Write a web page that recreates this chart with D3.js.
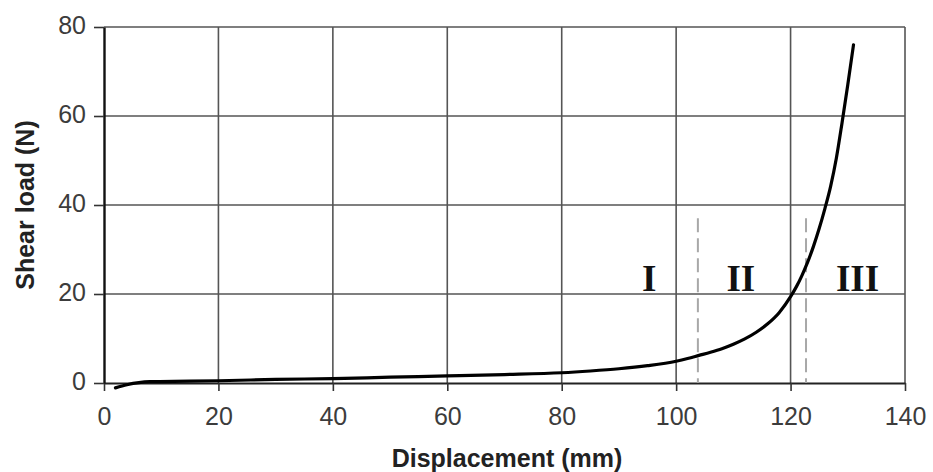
<!DOCTYPE html>
<html>
<head>
<meta charset="utf-8">
<script src="https://cdn.jsdelivr.net/npm/d3@7"></script>
<style>
  html, body { margin: 0; padding: 0; background: #fff; }
  svg { display: block; }
</style>
</head>
<body>
<svg id="chart" width="933" height="472"></svg>
<script>
// Shear load vs. displacement test record
const displacement = [2, 4, 8, 15, 20, 30, 40, 50, 60, 70, 80, 85, 90, 95, 100, 102, 104, 106, 108, 110, 112, 114, 116, 118, 120, 121, 122, 123, 124, 125, 126, 127, 128, 129, 130, 131];
const shearLoad    = [-1.1, -0.4, 0.3, 0.4, 0.5, 0.8, 1.0, 1.3, 1.6, 1.9, 2.3, 2.7, 3.2, 3.9, 4.9, 5.5, 6.2, 6.9, 7.7, 8.7, 9.9, 11.4, 13.3, 15.8, 19.4, 21.6, 24.2, 27.2, 30.7, 34.7, 39.2, 44.2, 50.5, 58.5, 67, 76];

const xTicks = [0, 20, 40, 60, 80, 100, 120, 140];
const yTicks = [0, 20, 40, 60, 80];

// Stage boundaries (dashed) and stage labels
const stageBounds = [103.8, 122.7];
const stageBoundTop = 37;
const stageNames = ["I", "II", "III"];
const stageLabelX = [95.3, 111.3, 131.7];
const stageLabelY = 20.6;

const svg = d3.select("#chart");
const x = d3.scaleLinear().domain([0, 140]).range([104, 905]);
const y = d3.scaleLinear().domain([0, 80]).range([383, 27]);

const gridColor = "#555";

// grid
const grid = svg.append("g");
grid.selectAll("line.v").data(xTicks.filter(d => d > 0)).join("line")
  .attr("x1", d => x(d)).attr("x2", d => x(d))
  .attr("y1", y(80)).attr("y2", y(0))
  .attr("stroke", gridColor).attr("stroke-width", 1.6);
grid.selectAll("line.h").data(yTicks.filter(d => d > 0)).join("line")
  .attr("x1", x(0)).attr("x2", x(140))
  .attr("y1", d => y(d)).attr("y2", d => y(d))
  .attr("stroke", gridColor).attr("stroke-width", 1.6);

// axes
const xAxis = svg.append("g")
  .attr("transform", `translate(0,${y(0)})`)
  .call(d3.axisBottom(x).tickValues(xTicks).tickSize(8).tickPadding(16).tickSizeOuter(0));
const yAxis = svg.append("g")
  .attr("transform", `translate(${x(0)},0)`)
  .call(d3.axisLeft(y).tickValues(yTicks).tickSize(10).tickPadding(8).tickSizeOuter(0));

[xAxis, yAxis].forEach(a => {
  a.selectAll("text")
    .attr("font-family", "Liberation Sans, Arial, sans-serif")
    .attr("font-size", 25)
    .attr("fill", "#3c3c3c");
  a.selectAll(".tick line").attr("stroke", "#333").attr("stroke-width", 1.6);
});
yAxis.selectAll("text").attr("dy", "0.26em");
xAxis.select(".domain").attr("stroke", "#222").attr("stroke-width", 2);
yAxis.select(".domain").attr("stroke", "#111").attr("stroke-width", 2.4);

// stage boundaries
svg.append("g").selectAll("line").data(stageBounds).join("line")
  .attr("x1", d => x(d)).attr("x2", d => x(d))
  .attr("y1", y(stageBoundTop)).attr("y2", y(0))
  .attr("stroke", "#a8a8a8").attr("stroke-width", 2)
  .attr("stroke-dasharray", "14,6");

// load curve
const line = d3.line()
  .x((d, i) => x(displacement[i]))
  .y(d => y(d))
  .curve(d3.curveMonotoneX);
svg.append("path")
  .datum(shearLoad)
  .attr("d", line)
  .attr("fill", "none")
  .attr("stroke", "#000")
  .attr("stroke-width", 3.2)
  .attr("stroke-linejoin", "round")
  .attr("stroke-linecap", "round");

// stage labels
svg.append("g").selectAll("text").data(stageNames).join("text")
  .attr("x", (d, i) => x(stageLabelX[i]))
  .attr("y", y(stageLabelY))
  .attr("text-anchor", "middle")
  .attr("font-family", "Liberation Serif, Times New Roman, serif")
  .attr("font-weight", "bold")
  .attr("font-size", 37)
  .attr("fill", "#111")
  .text(d => d);

// axis titles
svg.append("text")
  .attr("x", 507).attr("y", 467)
  .attr("text-anchor", "middle")
  .attr("font-family", "Liberation Sans, Arial, sans-serif")
  .attr("font-weight", "bold")
  .attr("font-size", 25)
  .attr("fill", "#222")
  .text("Displacement (mm)");
svg.append("text")
  .attr("transform", `translate(34,${(y(0) + y(80)) / 2}) rotate(-90)`)
  .attr("text-anchor", "middle")
  .attr("font-family", "Liberation Sans, Arial, sans-serif")
  .attr("font-weight", "bold")
  .attr("font-size", 25)
  .attr("fill", "#222")
  .text("Shear load (N)");
</script>
</body>
</html>
